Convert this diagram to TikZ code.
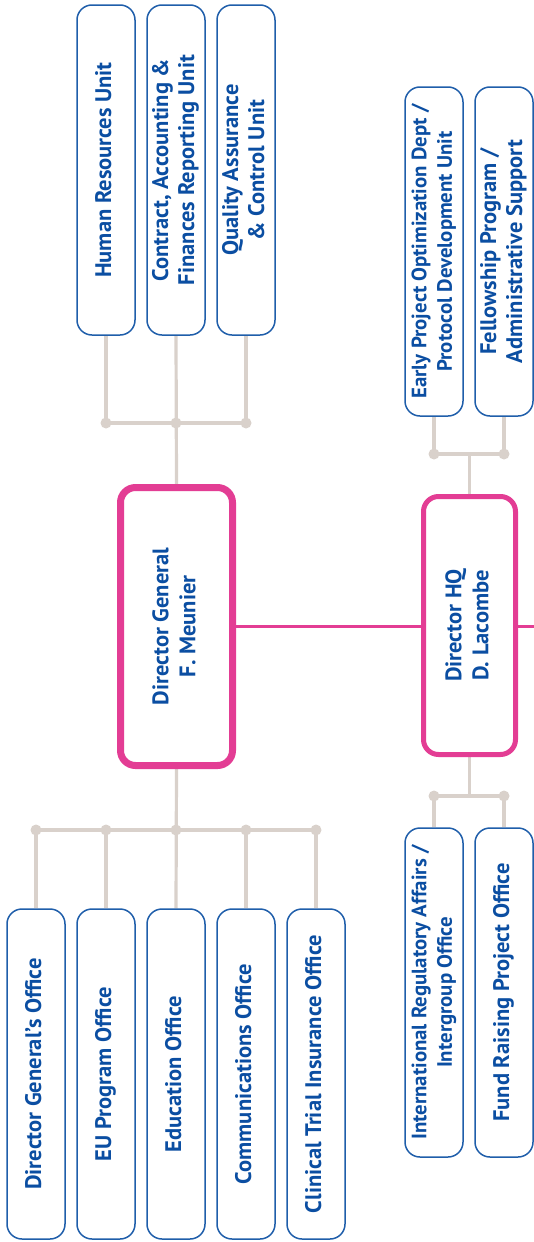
\documentclass[tikz,border=0pt]{standalone}
\usepackage{fontspec}
\usepackage{graphicx}
\setmainfont{PT Sans}
\usetikzlibrary{backgrounds}

\definecolor{unitblue}{HTML}{1F5EAA}
\definecolor{textblue}{HTML}{0B4EA2}
\definecolor{dirpink}{HTML}{E33D94}
\definecolor{linkgrey}{HTML}{D9D1CB}

% vertical, centred multi-line label reading bottom to top
\newcommand\vlabel[1]{\rotatebox{90}{\begin{tabular}{@{}c@{}}#1\end{tabular}}}

\tikzset{
  unit/.style={draw=unitblue, line width=1.5pt, fill=white, rounded corners=15pt,
    minimum width=58pt, inner sep=0pt, text=textblue,
    font=\fontsize{22.5}{26}\selectfont\bfseries},
  longunit/.style={unit, font=\fontsize{20.8}{25.5}\selectfont\bfseries},
  director/.style={draw=dirpink, fill=white, rounded corners=15pt, inner sep=0pt,
    text=textblue, font=\fontsize{22.5}{27}\selectfont\bfseries},
  link/.style={draw=linkgrey, line width=3.2pt},
  chief/.style={draw=dirpink, line width=2.7pt},
  joint/.style={fill=linkgrey, draw=none},
}

\begin{document}
\begin{tikzpicture}[x=1pt, y=-1pt]
\useasboundingbox (0,0) rectangle (534,1242);

% directors
\node[director, line width=7pt, minimum width=112pt, minimum height=278pt]
  (dg) at (176.5,626.5) {\vlabel{Director General\\F. Meunier}};
\node[director, line width=5pt, minimum width=92pt, minimum height=258pt]
  (hq) at (469.5,625.5) {\vlabel{Director HQ\\D. Lacombe}};

% units above the Director General
\node[unit, minimum height=330pt] (hr)   at (106,170) {\vlabel{Human Resources Unit}};
\node[unit, minimum height=330pt] (cafr) at (176,170) {\vlabel{Contract, Accounting \&\\Finances Reporting Unit}};
\node[unit, minimum height=330pt] (qa)   at (246,170) {\vlabel{Quality Assurance\\\& Control Unit}};

% offices below the Director General
\node[unit, minimum height=330pt] (dgo) at (36,1074)  {\vlabel{Director General's Office}};
\node[unit, minimum height=330pt] (eu)  at (106,1074) {\vlabel{EU Program Office}};
\node[unit, minimum height=330pt] (edu) at (176,1074) {\vlabel{Education Office}};
\node[unit, minimum height=330pt] (com) at (246,1074) {\vlabel{Communications Office}};
\node[unit, minimum height=330pt] (cti) at (316,1074) {\vlabel{Clinical Trial Insurance Office}};

% units around the Director HQ
\node[longunit, minimum height=329pt] (ep)  at (434,251.5) {\vlabel{Early Project Optimization Dept /\\Protocol Development Unit}};
\node[unit, minimum height=329pt] (fp)  at (504,251.5) {\vlabel{Fellowship Program /\\Administrative Support}};
\node[longunit, minimum height=329pt] (ira) at (434,992.5) {\vlabel{International Regulatory Affairs /\\Intergroup Office}};
\node[unit, minimum height=329pt] (fr)  at (504,992.5) {\vlabel{Fund Raising Project Office}};

% junction levels and the free end of the chief line
\coordinate (tj) at (176,423);
\coordinate (bj) at (176,830);
\coordinate (rtj) at (469,454);
\coordinate (rbj) at (469,796);
\coordinate (edge) at (534,626.5);

\begin{scope}[on background layer]
  % Director General: upper units
  \draw[link] (hr.south) -- (hr.south |- tj) -- (qa.south |- tj) -- (qa.south);
  \draw[link] (cafr.south) -- (dg.north);
  \foreach \n in {hr,cafr,qa} \fill[joint] (\n.south |- tj) circle (5.5pt);
  % Director General: lower offices
  \draw[link] (dgo.north) -- (dgo.north |- bj) -- (cti.north |- bj) -- (cti.north);
  \draw[link] (dg.south) -- (edu.north);
  \foreach \n in {eu,com} \draw[link] (\n.north |- bj) -- (\n.north);
  \foreach \n in {dgo,eu,edu,com,cti} \fill[joint] (\n.north |- bj) circle (5.5pt);
  % Director HQ: upper units
  \draw[link] (ep.south) -- (ep.south |- rtj) -- (fp.south |- rtj) -- (fp.south);
  \draw[link] (hq.north) -- (hq.north |- rtj);
  \foreach \n in {ep,fp} \fill[joint] (\n.south |- rtj) circle (5.5pt);
  % Director HQ: lower units
  \draw[link] (ira.north) -- (ira.north |- rbj) -- (fr.north |- rbj) -- (fr.north);
  \draw[link] (hq.south) -- (hq.south |- rbj);
  \foreach \n in {ira,fr} \fill[joint] (\n.north |- rbj) circle (5.5pt);
  % chain of command
  \draw[chief] (dg.east) -- (hq.west |- dg.east);
  \draw[chief] (hq.east |- edge) -- (edge);
\end{scope}
\end{tikzpicture}
\end{document}
